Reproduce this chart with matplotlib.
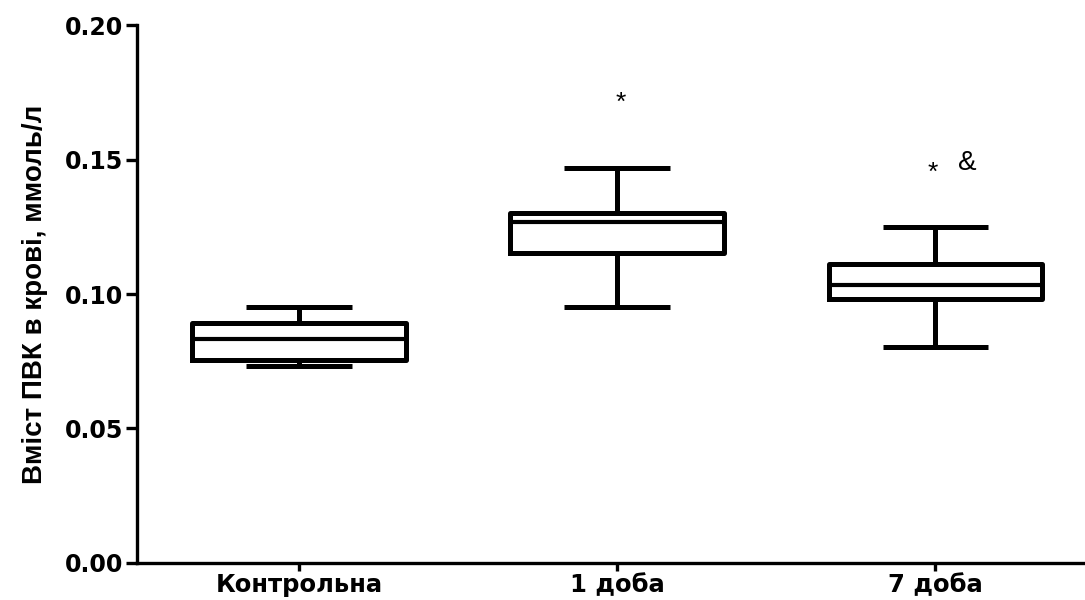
import matplotlib.pyplot as plt
import matplotlib.font_manager as fm

groups = ['Контрольна', '1 доба', '7 доба']
whislo = [0.0732, 0.0953, 0.0802]
q1 = [0.0755, 0.1152, 0.0983]
med = [0.0832, 0.1269, 0.1035]
q3 = [0.0891, 0.1301, 0.1112]
whishi = [0.0951, 0.1467, 0.1249]

yticks = [0.00, 0.05, 0.10, 0.15, 0.20]
ytick_labels = ['0.00', '0.05', '0.10', '0.15', '0.20']

names = set(f.name for f in fm.fontManager.ttflist)
narrow = 'Liberation Sans Narrow' if 'Liberation Sans Narrow' in names else 'Liberation Sans'

stats = []
for i in range(len(groups)):
    stats.append({'whislo': whislo[i], 'q1': q1[i], 'med': med[i],
                  'q3': q3[i], 'whishi': whishi[i], 'fliers': []})

fig = plt.figure(figsize=(10.85, 6.0), dpi=100)
ax = fig.add_axes([0.1263, 0.0617, 0.8737, 0.8966])

lw = 3.6
ax.bxp(stats, positions=[1, 2, 3], widths=0.672, capwidths=0.333,
       showfliers=False, manage_ticks=False,
       boxprops=dict(color='black', linewidth=lw, solid_joinstyle='round'),
       medianprops=dict(color='black', linewidth=3.0),
       whiskerprops=dict(color='black', linewidth=lw),
       capprops=dict(color='black', linewidth=lw, solid_capstyle='butt'))

ax.set_xlim(0.49, 3.47)
ax.set_ylim(0, 0.20)
ax.set_yticks(yticks)
ax.set_yticklabels(ytick_labels, fontfamily='DejaVu Sans', fontweight='bold', fontsize=17)
ax.set_xticks([1, 2, 3])
ax.set_xticklabels(groups, fontfamily='DejaVu Sans', fontweight='bold', fontsize=17.5)

for s in ['top', 'right']:
    ax.spines[s].set_visible(False)
for s in ['left', 'bottom']:
    ax.spines[s].set_linewidth(2.4)
ax.tick_params(axis='y', length=8, width=2.4, pad=2)
ax.tick_params(axis='x', length=6, width=2.4, pad=1)

ax.set_ylabel('Вміст ПВК в крові, ммоль/л', fontfamily=narrow, fontweight='bold',
              fontsize=20, labelpad=12)

# significance marks
ax.text(2.01, 0.171, '*', ha='center', va='center', fontsize=19, fontfamily='Liberation Sans')
ax.text(2.99, 0.145, '*', ha='center', va='center', fontsize=19, fontfamily='Liberation Sans')
ax.text(3.10, 0.1487, '&', ha='center', va='center', fontsize=20, fontfamily='Liberation Sans')

fig.savefig('out.png', dpi=100)
